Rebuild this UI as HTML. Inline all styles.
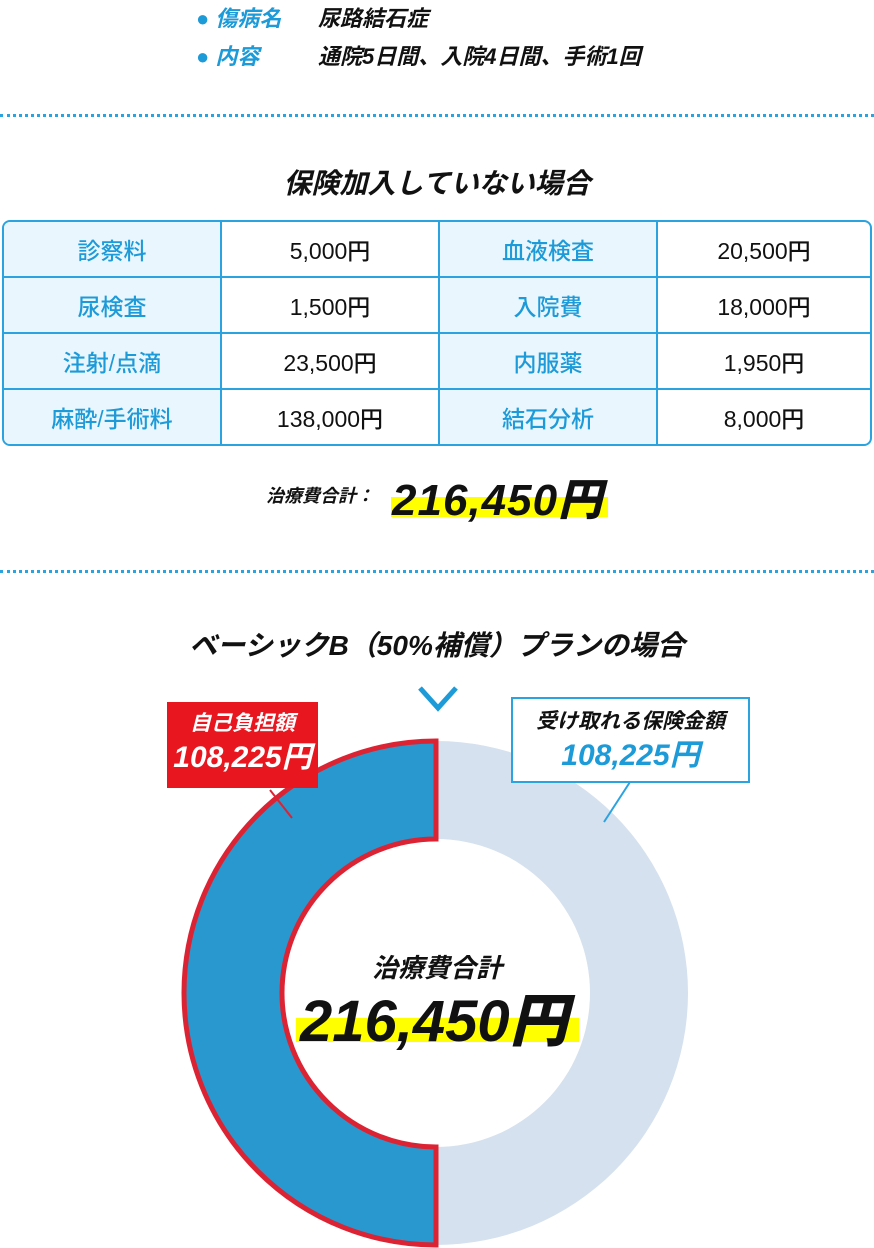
<!DOCTYPE html>
<html><head><meta charset="utf-8"><style>
body{margin:0;width:874px;height:1248px;background:#fff;position:relative;overflow:hidden;font-family:"Liberation Sans","Noto Sans CJK JP",sans-serif;font-weight:bold;color:#111}
.a{position:absolute;white-space:nowrap}
.it{font-style:italic}
.dot{position:absolute;left:0;width:874px;height:0;border-top:3px dotted #2aa3e0}
table{position:absolute;left:2px;top:220px;width:870px;height:224px;border-collapse:separate;border-spacing:0;border:2px solid #2aa3e0;border-radius:8px;overflow:hidden}
td{border-right:2px solid #2aa3e0;border-bottom:2px solid #2aa3e0;text-align:center;font-size:23px;font-weight:500;height:54px;padding:0}
td:last-child{border-right:none}
tr:last-child td{border-bottom:none}
td.l{background:#eaf6fd;color:#1d9ad8}
</style></head><body>
<div class="a it" style="left:196px;top:1px;font-size:22px;color:#1d9ad8">● 傷病名</div>
<div class="a it" style="left:318px;top:1px;font-size:22px">尿路結石症</div>
<div class="a it" style="left:196px;top:39px;font-size:22px;color:#1d9ad8">● 内容</div>
<div class="a it" style="left:318px;top:39px;font-size:22px">通院5日間、入院4日間、手術1回</div>
<div class="dot" style="top:114px"></div>
<div class="a it" style="left:0;width:874px;text-align:center;top:162px;font-size:28px">保険加入していない場合</div>
<table>
<tr><td class="l" style="width:216px">診察料</td><td style="width:216px">5,000円</td><td class="l" style="width:216px">血液検査</td><td>20,500円</td></tr>
<tr><td class="l">尿検査</td><td>1,500円</td><td class="l">入院費</td><td>18,000円</td></tr>
<tr><td class="l">注射/点滴</td><td>23,500円</td><td class="l">内服薬</td><td>1,950円</td></tr>
<tr><td class="l">麻酔/手術料</td><td>138,000円</td><td class="l">結石分析</td><td>8,000円</td></tr>
</table>
<div class="a" style="left:391px;top:497px;width:217px;height:20px;background:#ffff00"></div>
<div class="a it" style="left:266px;top:482px;font-size:18px">治療費合計：</div>
<div class="a it" style="left:392px;top:464px;font-size:44px;font-weight:900;letter-spacing:1px">216,450円</div>
<div class="dot" style="top:570px"></div>
<div class="a it" style="left:0;width:874px;text-align:center;top:624px;font-size:28px">ベーシックB（50%補償）プランの場合</div>
<svg class="a" style="left:0;top:0" width="874" height="1248">
<polyline points="420,688 438,708 456,688" fill="none" stroke="#1d9ad8" stroke-width="5"/>
<path d="M436,741 A252,252 0 0 1 436,1245 L436,1147 A154,154 0 0 0 436,839 Z" fill="#d5e1ee"/>
<path d="M436,741 A252,252 0 0 0 436,1245 L436,1147 A154,154 0 0 1 436,839 Z" fill="#2898cf" stroke="#dc2333" stroke-width="5"/>
<line x1="270" y1="790" x2="292" y2="818" stroke="#dc2333" stroke-width="2"/>
<line x1="630" y1="782" x2="604" y2="822" stroke="#2aa3e0" stroke-width="2"/>
</svg>
<div class="a" style="left:167px;top:702px;width:151px;height:86px;background:#e8171f"></div>
<div class="a it" style="left:167px;top:707px;width:151px;text-align:center;color:#fff;font-size:21px">自己負担額</div>
<div class="a it" style="left:167px;top:732px;width:151px;text-align:center;color:#fff;font-size:30px">108,225円</div>
<div class="a" style="left:511px;top:697px;width:239px;height:86px;border:2px solid #2aa3e0;background:#fff;box-sizing:border-box"></div>
<div class="a it" style="left:511px;top:705px;width:239px;text-align:center;font-size:21px">受け取れる保険金額</div>
<div class="a it" style="left:511px;top:730px;width:239px;text-align:center;font-size:30px;color:#1d9ad8">108,225円</div>
<div class="a" style="left:296px;top:1018px;width:283px;height:24px;background:#ffff00"></div>
<div class="a it" style="left:0;width:874px;text-align:center;top:948px;font-size:26px">治療費合計</div>
<div class="a it" style="left:300px;top:974px;font-size:58px;font-weight:900">216,450円</div>
</body></html>
